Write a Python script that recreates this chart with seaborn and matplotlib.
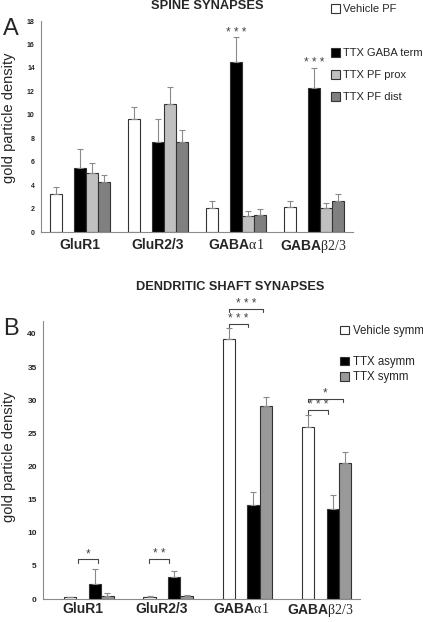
"""
Spine and dendritic shaft synapses - gold particle density (two panels)
"""

import pandas as pd
import matplotlib
matplotlib.use("Agg")
import matplotlib.pyplot as plt
from matplotlib.patches import Patch
from matplotlib.ticker import FixedLocator
import seaborn as sns

W, H = 423, 622

categories = ["GluR1", "GluR2/3", "GABAa1", "GABAb2/3"]
tick_labels = ["GluR1", "GluR2/3", r"GABA$\mathrm{α1}$", r"GABA$\mathrm{β2/3}$"]

# panel A - spine synapses
spine_groups = ["Vehicle PF", "TTX GABA term", "TTX PF prox", "TTX PF dist"]
spine_vehicle = [3.2, 9.6, 2.05, 2.15]
spine_vehicle_err = [0.65, 1.1, 0.6, 0.5]
spine_gaba = [5.46, 7.68, 14.53, 12.31]
spine_gaba_err = [1.6, 2.0, 2.1, 1.7]
spine_prox = [5.03, 10.9, 1.34, 2.02]
spine_prox_err = [0.87, 1.47, 0.43, 0.45]
spine_dist = [4.27, 7.65, 1.48, 2.65]
spine_dist_err = [0.63, 1.05, 0.48, 0.62]

# panel B - dendritic shaft synapses
shaft_groups = ["Vehicle symm", "TTX asymm", "TTX symm"]
shaft_vehicle = [0.25, 0.35, 39.2, 25.96]
shaft_vehicle_err = [0.1, 0.1, 1.7, 1.8]
shaft_asymm = [2.26, 3.37, 14.19, 13.63]
shaft_asymm_err = [2.24, 0.9, 2.0, 2.0]
shaft_symm = [0.5, 0.45, 29.13, 20.6]
shaft_symm_err = [0.45, 0.1, 1.4, 1.65]

# significance marks
spine_stars = [(2, 16.7), (3, 14.1)]
shaft_brackets = [
    (0, -0.055, 0.195, 6.0, "*"),
    (1, -0.16, 0.093, 6.0, "* *"),
    (2, -0.153, 0.09, 41.5, "* * *"),
    (2, -0.153, 0.28, 43.8, "* * *"),
    (3, -0.153, 0.10, 28.5, "* * *"),
    (3, -0.153, 0.28, 30.2, "*"),
]

sns.set_style("white")
plt.rcParams['font.family'] = ['Liberation Sans', 'DejaVu Sans']
plt.rcParams['mathtext.fontset'] = 'custom'
plt.rcParams['mathtext.rm'] = 'Liberation Serif'

EDGE = '#333333'
SPINE_COL = '#8a8a8a'
MARK_COL = '#444444'


def long_frame(groups, values, errs):
    rows = []
    for g, vals, es in zip(groups, values, errs):
        for c, v, e in zip(categories, vals, es):
            rows.append({'category': c, 'group': g, 'value': v, 'err': e})
    return pd.DataFrame(rows)


def style_axis(ax, ymax, step, ysize, pad):
    ax.set_xlim(-0.5, 3.5)
    ax.set_ylim(0, ymax)
    ax.set_yticks(range(0, ymax + 1, step))
    for s in ['top', 'right']:
        ax.spines[s].set_visible(False)
    for s in ['left', 'bottom']:
        ax.spines[s].set_color(SPINE_COL)
        ax.spines[s].set_linewidth(0.8)
    ax.tick_params(axis='y', length=2.5, width=0.6, color=SPINE_COL,
                   labelsize=ysize, pad=2)
    ax.xaxis.set_minor_locator(FixedLocator([0.5, 1.5, 2.5]))
    ax.tick_params(axis='x', which='minor', length=3, width=0.6,
                   color=SPINE_COL, direction='out')
    ax.tick_params(axis='x', which='major', length=0, pad=pad)
    ax.set_xticks(range(len(categories)))
    ax.set_xticklabels(tick_labels, fontsize=10, fontweight='bold')
    ax.set_xlabel('')
    ax.set_ylabel('gold particle density', fontsize=10.5)


def draw_panel(ax, df, hue_order, palette):
    sns.barplot(data=df, x='category', y='value', hue='group', order=categories,
                hue_order=hue_order, palette=palette, width=0.78,
                edgecolor=EDGE, linewidth=0.8, errorbar=None, legend=False,
                ax=ax)
    # error bars (upper only) at the centre of each drawn bar
    for p in ax.patches:
        if p.get_height() <= 0:
            continue
        xc = p.get_x() + p.get_width() / 2
        cat = categories[int(round(xc))]
        sub = df[df['category'] == cat]
        row = sub.iloc[(sub['value'] - p.get_height()).abs().argmin()]
        ax.errorbar(xc, row['value'], yerr=[[0], [row['err']]],
                    fmt='none', ecolor='#8a8a8a', elinewidth=0.8,
                    capsize=2, capthick=0.8, zorder=1)


fig = plt.figure(figsize=(W / 100, H / 100), dpi=100)

# ---------------- panel A ----------------
axA = fig.add_axes([41 / W, 1 - 232 / H, (353 - 41) / W, (232 - 21) / H])
dfA = long_frame(spine_groups,
                 [spine_vehicle, spine_gaba, spine_prox, spine_dist],
                 [spine_vehicle_err, spine_gaba_err, spine_prox_err, spine_dist_err])
hueA = ["Vehicle PF", "_gapA", "TTX GABA term", "TTX PF prox", "TTX PF dist"]
palA = {"Vehicle PF": 'white', "_gapA": 'white', "TTX GABA term": 'black',
        "TTX PF prox": '#c0c0c0', "TTX PF dist": '#808080'}
draw_panel(axA, dfA, hueA, palA)
style_axis(axA, 18, 2, 5, 4)
for t in axA.get_yticklabels():
    t.set_fontweight('bold')
axA.yaxis.set_label_coords(-0.08, 0.54)
for ci, y in spine_stars:
    axA.text(ci, y + 0.05, "* * *", ha='center', va='baseline', fontsize=8.5,
             color=MARK_COL, clip_on=False)

# ---------------- panel B ----------------
axB = fig.add_axes([43 / W, 1 - 599 / H, (360 - 43) / W, (599 - 320.75) / H])
dfB = long_frame(shaft_groups, [shaft_vehicle, shaft_asymm, shaft_symm],
                 [shaft_vehicle_err, shaft_asymm_err, shaft_symm_err])
hueB = ["_gapB1", "Vehicle symm", "_gapB2", "TTX asymm", "TTX symm"]
palB = {"_gapB1": 'white', "Vehicle symm": 'white', "_gapB2": 'white',
        "TTX asymm": 'black', "TTX symm": '#999999'}
draw_panel(axB, dfB, hueB, palB)
style_axis(axB, 42, 5, 6, 2)
axB.set_yticks(range(0, 41, 5))
for t in axB.get_yticklabels():
    t.set_fontweight('bold')
axB.yaxis.set_label_coords(-0.085, 0.51)
for ci, x0, x1, y, lab in shaft_brackets:
    tick = 0.5
    axB.plot([ci + x0, ci + x0, ci + x1, ci + x1], [y - tick, y, y, y - tick],
             color=MARK_COL, lw=0.8, clip_on=False)
    axB.text(ci + (x0 + x1) / 2, y + 0.3, lab, ha='center', va='baseline',
             fontsize=8.5, color=MARK_COL, clip_on=False)

# titles and panel letters
fig.text(207 / W, 1 - 6 / H, "SPINE SYNAPSES", ha='center', va='center',
         fontsize=9.3, fontweight='bold')
fig.text(230 / W, 1 - 287 / H, "DENDRITIC SHAFT SYNAPSES", ha='center',
         va='center', fontsize=9.2, fontweight='bold')
fig.text(3 / W, 1 - 29 / H, "A", ha='left', va='center', fontsize=17)
fig.text(3 / W, 1 - 329 / H, "B", ha='left', va='center', fontsize=17)


# legends
def handles(colors):
    out = []
    for c in colors:
        if c is None:
            out.append(Patch(facecolor='none', edgecolor='none'))
        else:
            out.append(Patch(facecolor=c, edgecolor=EDGE, linewidth=0.8))
    return out


fig.legend(handles(['white', None, 'black', '#c0c0c0', '#808080']),
           ["Vehicle PF", " ", "TTX GABA term", "TTX PF prox", "TTX PF dist"],
           loc='upper left', bbox_to_anchor=(331 / W, 1 - 4 / H), frameon=False,
           fontsize=8, handlelength=0.8, handleheight=0.8, handletextpad=0.3,
           labelspacing=1.07, borderpad=0, borderaxespad=0)
fig.legend(handles(['white', None, 'black', '#999999']),
           ["Vehicle symm", " ", "TTX asymm", "TTX symm"],
           loc='upper left', bbox_to_anchor=(340 / W, 1 - 325 / H), frameon=False,
           fontsize=8.3, handlelength=0.8, handleheight=0.8, handletextpad=0.3,
           labelspacing=0.3, borderpad=0, borderaxespad=0)

fig.savefig("out.png", dpi=100)
